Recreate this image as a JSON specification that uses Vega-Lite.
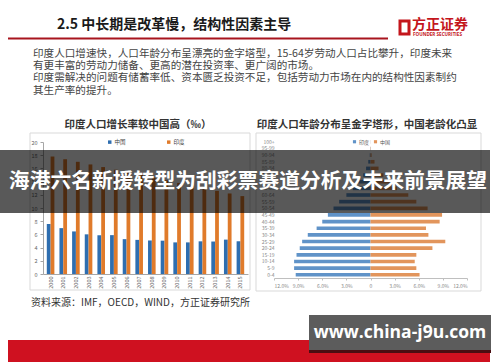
{
  "$schema": "https://vega.github.io/schema/vega-lite/v6.json",
  "width": 500,
  "height": 362,
  "padding": 0,
  "autosize": {"type": "none"},
  "background": "white",
  "config": {
    "view": {"stroke": null},
    "font": "Noto Sans CJK SC",
    "axis": {"labelFont": "Noto Sans CJK SC", "grid": false},
    "legend": {"labelFont": "Noto Sans CJK SC"},
    "text": {"font": "Noto Sans CJK SC"}
  },
  "resolve": {
    "scale": {"x": "independent", "y": "independent", "color": "independent", "xOffset": "independent"},
    "axis": {"x": "independent", "y": "independent"},
    "legend": {"color": "independent"}
  },
  "layer": [
    {
      "data": {"values": [{"part": "page"}]},
      "layer": [
        {
          "mark": {"type": "rect", "filled": false, "stroke": "#d9d9d9", "strokeWidth": 1},
          "encoding": {
            "x": {"datum": 30, "type": "quantitative", "scale": {"domain": [0, 500], "range": [0, 500], "nice": false, "zero": false}, "axis": null},
            "x2": {"datum": 250},
            "y": {"datum": 133, "type": "quantitative", "scale": {"domain": [0, 362], "range": [0, 362], "nice": false, "zero": false}, "axis": null},
            "y2": {"datum": 290}
          }
        },
        {
          "mark": {"type": "rect", "filled": false, "stroke": "#d9d9d9", "strokeWidth": 1},
          "encoding": {
            "x": {"datum": 256, "type": "quantitative", "scale": {"domain": [0, 500], "range": [0, 500], "nice": false, "zero": false}, "axis": null},
            "x2": {"datum": 481},
            "y": {"datum": 133, "type": "quantitative", "scale": {"domain": [0, 362], "range": [0, 362], "nice": false, "zero": false}, "axis": null},
            "y2": {"datum": 291}
          }
        },
        {
          "mark": {"type": "text", "align": "left", "baseline": "middle", "fontSize": 14, "fontWeight": "bold", "color": "#1a1a1a"},
          "encoding": {
            "x": {"datum": 57, "type": "quantitative", "scale": {"domain": [0, 500], "range": [0, 500], "nice": false, "zero": false}, "axis": null},
            "y": {"datum": 25, "type": "quantitative", "scale": {"domain": [0, 362], "range": [0, 362], "nice": false, "zero": false}, "axis": null},
            "text": {"value": "2.5 中长期是改革慢，结构性因素主导"}
          }
        },
        {
          "mark": {"type": "rule", "color": "#a8151e", "strokeWidth": 2},
          "encoding": {
            "x": {"datum": 8, "type": "quantitative", "scale": {"domain": [0, 500], "range": [0, 500], "nice": false, "zero": false}, "axis": null},
            "x2": {"datum": 388},
            "y": {"datum": 38.5, "type": "quantitative", "scale": {"domain": [0, 362], "range": [0, 362], "nice": false, "zero": false}, "axis": null}
          }
        },
        {
          "mark": {"type": "rect", "filled": false, "stroke": "#c4161c", "strokeWidth": 3},
          "encoding": {
            "x": {"datum": 400, "type": "quantitative", "scale": {"domain": [0, 500], "range": [0, 500], "nice": false, "zero": false}, "axis": null},
            "x2": {"datum": 409},
            "y": {"datum": 21, "type": "quantitative", "scale": {"domain": [0, 362], "range": [0, 362], "nice": false, "zero": false}, "axis": null},
            "y2": {"datum": 34}
          }
        },
        {
          "mark": {"type": "text", "align": "left", "baseline": "middle", "fontSize": 14, "fontWeight": "bold", "color": "#c4161c"},
          "encoding": {
            "x": {"datum": 412, "type": "quantitative", "scale": {"domain": [0, 500], "range": [0, 500], "nice": false, "zero": false}, "axis": null},
            "y": {"datum": 25, "type": "quantitative", "scale": {"domain": [0, 362], "range": [0, 362], "nice": false, "zero": false}, "axis": null},
            "text": {"value": "方正证券"}
          }
        },
        {
          "mark": {"type": "text", "align": "left", "baseline": "middle", "fontSize": 4.6, "fontWeight": "bold", "color": "#c4161c", "font": "Open Sans"},
          "encoding": {
            "x": {"datum": 413, "type": "quantitative", "scale": {"domain": [0, 500], "range": [0, 500], "nice": false, "zero": false}, "axis": null},
            "y": {"datum": 35, "type": "quantitative", "scale": {"domain": [0, 362], "range": [0, 362], "nice": false, "zero": false}, "axis": null},
            "text": {"value": "FOUNDER SECURITIES"}
          }
        },
        {
          "mark": {"type": "text", "align": "left", "baseline": "top", "fontSize": 10.6, "lineHeight": 12.2, "color": "#444444"},
          "encoding": {
            "x": {"datum": 33, "type": "quantitative", "scale": {"domain": [0, 500], "range": [0, 500], "nice": false, "zero": false}, "axis": null},
            "y": {"datum": 49, "type": "quantitative", "scale": {"domain": [0, 362], "range": [0, 362], "nice": false, "zero": false}, "axis": null},
            "text": {"value": ["印度人口增速快，人口年龄分布呈漂亮的金字塔型，15-64岁劳动人口占比攀升，印度未来", "有更丰富的劳动力储备、更高的潜在投资率、更广阔的市场。", "印度需解决的问题有储蓄率低、资本匮乏投资不足，包括劳动力市场在内的结构性因素制约", "其生产率的提升。"]}
          }
        },
        {
          "mark": {"type": "text", "align": "center", "baseline": "middle", "fontSize": 10.5, "fontWeight": "bold", "color": "#333333"},
          "encoding": {
            "x": {"datum": 138, "type": "quantitative", "scale": {"domain": [0, 500], "range": [0, 500], "nice": false, "zero": false}, "axis": null},
            "y": {"datum": 124.5, "type": "quantitative", "scale": {"domain": [0, 362], "range": [0, 362], "nice": false, "zero": false}, "axis": null},
            "text": {"value": "印度人口增长率较中国高（‰）"}
          }
        },
        {
          "mark": {"type": "text", "align": "center", "baseline": "middle", "fontSize": 10.5, "fontWeight": "bold", "color": "#333333"},
          "encoding": {
            "x": {"datum": 367, "type": "quantitative", "scale": {"domain": [0, 500], "range": [0, 500], "nice": false, "zero": false}, "axis": null},
            "y": {"datum": 124.5, "type": "quantitative", "scale": {"domain": [0, 362], "range": [0, 362], "nice": false, "zero": false}, "axis": null},
            "text": {"value": "印度人口年龄分布呈金字塔形，中国老龄化凸显"}
          }
        },
        {
          "mark": {"type": "text", "align": "left", "baseline": "middle", "fontSize": 10, "color": "#333333"},
          "encoding": {
            "x": {"datum": 31, "type": "quantitative", "scale": {"domain": [0, 500], "range": [0, 500], "nice": false, "zero": false}, "axis": null},
            "y": {"datum": 303, "type": "quantitative", "scale": {"domain": [0, 362], "range": [0, 362], "nice": false, "zero": false}, "axis": null},
            "text": {"value": "资料来源：IMF，OECD，WIND，方正证券研究所"}
          }
        }
      ]
    },
    {
      "data": {"values": [
        {"year": "2000", "country": "中国", "rate": 7.58}, {"year": "2000", "country": "印度", "rate": 17.8},
        {"year": "2001", "country": "中国", "rate": 6.95}, {"year": "2001", "country": "印度", "rate": 17.4},
        {"year": "2002", "country": "中国", "rate": 6.45}, {"year": "2002", "country": "印度", "rate": 17.0},
        {"year": "2003", "country": "中国", "rate": 6.01}, {"year": "2003", "country": "印度", "rate": 16.6},
        {"year": "2004", "country": "中国", "rate": 5.87}, {"year": "2004", "country": "印度", "rate": 16.2},
        {"year": "2005", "country": "中国", "rate": 5.89}, {"year": "2005", "country": "印度", "rate": 15.8},
        {"year": "2006", "country": "中国", "rate": 5.28}, {"year": "2006", "country": "印度", "rate": 15.4},
        {"year": "2007", "country": "中国", "rate": 5.17}, {"year": "2007", "country": "印度", "rate": 15.0},
        {"year": "2008", "country": "中国", "rate": 5.08}, {"year": "2008", "country": "印度", "rate": 14.6},
        {"year": "2009", "country": "中国", "rate": 5.05}, {"year": "2009", "country": "印度", "rate": 14.2},
        {"year": "2010", "country": "中国", "rate": 4.79}, {"year": "2010", "country": "印度", "rate": 13.8},
        {"year": "2011", "country": "中国", "rate": 4.79}, {"year": "2011", "country": "印度", "rate": 13.4},
        {"year": "2012", "country": "中国", "rate": 4.95}, {"year": "2012", "country": "印度", "rate": 13.0},
        {"year": "2013", "country": "中国", "rate": 4.92}, {"year": "2013", "country": "印度", "rate": 12.6},
        {"year": "2014", "country": "中国", "rate": 5.21}, {"year": "2014", "country": "印度", "rate": 12.2},
        {"year": "2015", "country": "中国", "rate": 4.96}, {"year": "2015", "country": "印度", "rate": 11.8}
      ]},
      "mark": {"type": "bar"},
      "encoding": {
        "x": {
          "field": "year", "type": "ordinal",
          "scale": {"range": [43, 248], "paddingInner": 0.4, "paddingOuter": 0.3},
          "axis": {"orient": "bottom", "offset": -88, "title": null, "labelAngle": -90, "labelFontSize": 5.5, "labelColor": "#666666", "ticks": false, "domainColor": "#a6a6a6", "labelPadding": 2}
        },
        "xOffset": {"field": "country", "type": "nominal", "scale": {"domain": ["中国", "印度"]}},
        "y": {
          "field": "rate", "type": "quantitative",
          "scale": {"domain": [0, 20], "range": [274, 142], "nice": false},
          "axis": {"orient": "left", "offset": -43, "title": null, "values": [0, 2, 4, 6, 8, 10, 12, 14, 16, 18, 20], "labelFontSize": 5.5, "labelColor": "#666666", "tickSize": 3, "tickColor": "#a6a6a6", "domainColor": "#a6a6a6", "labelPadding": 3}
        },
        "color": {
          "field": "country", "type": "nominal",
          "scale": {"domain": ["中国", "印度"], "range": ["#2e6eb0", "#e07b2b"]},
          "legend": {"orient": "none", "legendX": 107, "legendY": 139, "direction": "horizontal", "title": null, "symbolType": "square", "symbolSize": 12, "labelFontSize": 5.5, "labelColor": "#444444", "columnPadding": 40, "symbolOffset": 0, "labelOffset": 2}
        }
      }
    },
    {
      "data": {"values": [
        {"age": "100+", "who": "印度", "pct": -0.01}, {"age": "100+", "who": "中国", "pct": 0.01},
        {"age": "95-99", "who": "印度", "pct": -0.03}, {"age": "95-99", "who": "中国", "pct": 0.04},
        {"age": "90-94", "who": "印度", "pct": -0.09}, {"age": "90-94", "who": "中国", "pct": 0.14},
        {"age": "85-89", "who": "印度", "pct": -0.28}, {"age": "85-89", "who": "中国", "pct": 0.5},
        {"age": "80-84", "who": "印度", "pct": -0.55}, {"age": "80-84", "who": "中国", "pct": 1.0},
        {"age": "75-79", "who": "印度", "pct": -0.9}, {"age": "75-79", "who": "中国", "pct": 1.6},
        {"age": "70-74", "who": "印度", "pct": -1.5}, {"age": "70-74", "who": "中国", "pct": 2.4},
        {"age": "65-69", "who": "印度", "pct": -2.2}, {"age": "65-69", "who": "中国", "pct": 3.3},
        {"age": "60-64", "who": "印度", "pct": -3.0}, {"age": "60-64", "who": "中国", "pct": 4.7},
        {"age": "55-59", "who": "印度", "pct": -3.9}, {"age": "55-59", "who": "中国", "pct": 5.7},
        {"age": "50-54", "who": "印度", "pct": -4.6}, {"age": "50-54", "who": "中国", "pct": 7.1},
        {"age": "45-49", "who": "印度", "pct": -5.3}, {"age": "45-49", "who": "中国", "pct": 8.9},
        {"age": "40-44", "who": "印度", "pct": -6.0}, {"age": "40-44", "who": "中国", "pct": 8.6},
        {"age": "35-39", "who": "印度", "pct": -6.7}, {"age": "35-39", "who": "中国", "pct": 6.9},
        {"age": "30-34", "who": "印度", "pct": -7.8}, {"age": "30-34", "who": "中国", "pct": 7.2},
        {"age": "25-29", "who": "印度", "pct": -8.5}, {"age": "25-29", "who": "中国", "pct": 9.3},
        {"age": "20-24", "who": "印度", "pct": -8.8}, {"age": "20-24", "who": "中国", "pct": 7.7},
        {"age": "15-19", "who": "印度", "pct": -9.2}, {"age": "15-19", "who": "中国", "pct": 5.7},
        {"age": "10-14", "who": "印度", "pct": -9.5}, {"age": "10-14", "who": "中国", "pct": 5.5},
        {"age": "5-9", "who": "印度", "pct": -9.5}, {"age": "5-9", "who": "中国", "pct": 5.7},
        {"age": "0-4", "who": "印度", "pct": -9.3}, {"age": "0-4", "who": "中国", "pct": 6.1}
      ]},
      "mark": {"type": "bar"},
      "encoding": {
        "y": {
          "field": "age", "type": "ordinal",
          "scale": {"domain": ["100+", "95-99", "90-94", "85-89", "80-84", "75-79", "70-74", "65-69", "60-64", "55-59", "50-54", "45-49", "40-44", "35-39", "30-34", "25-29", "20-24", "15-19", "10-14", "5-9", "0-4"], "range": [138, 278.6], "paddingInner": 0.45, "paddingOuter": 0.3},
          "axis": {"orient": "left", "offset": -276, "title": null, "ticks": false, "domain": false, "labelFontSize": 5, "labelColor": "#888888", "labelPadding": 2}
        },
        "x": {
          "field": "pct", "type": "quantitative",
          "scale": {"domain": [-12, 12], "range": [274, 467], "nice": false},
          "axis": {"orient": "bottom", "offset": -84, "title": null, "values": [-12, -9, -6, -3, 0, 3, 6, 9, 12], "labelExpr": "datum.value == 0 ? '0' : format(abs(datum.value), '.1f') + '%'", "labelFontSize": 5, "labelColor": "#888888", "tickSize": 2, "tickColor": "#bfbfbf", "domainColor": "#bfbfbf", "labelPadding": 3}
        },
        "color": {
          "field": "who", "type": "nominal",
          "scale": {"domain": ["印度", "中国"], "range": ["#6093c8", "#e2955c"]},
          "legend": {"orient": "none", "legendX": 352, "legendY": 139, "direction": "horizontal", "title": null, "symbolType": "square", "symbolSize": 10, "labelFontSize": 5, "labelColor": "#555555", "columnPadding": 3, "labelOffset": 2}
        }
      }
    },
    {
      "data": {"values": [{"part": "overlay"}]},
      "layer": [
        {
          "mark": {"type": "rect", "fill": "black", "opacity": 0.65},
          "encoding": {
            "x": {"datum": 0, "type": "quantitative", "scale": {"domain": [0, 500], "range": [0, 500], "nice": false, "zero": false}, "axis": null},
            "x2": {"datum": 490},
            "y": {"datum": 150, "type": "quantitative", "scale": {"domain": [0, 362], "range": [0, 362], "nice": false, "zero": false}, "axis": null},
            "y2": {"datum": 213}
          }
        },
        {
          "mark": {"type": "text", "align": "center", "baseline": "middle", "fontSize": 20.8, "fontWeight": "bold", "color": "white"},
          "encoding": {
            "x": {"datum": 248, "type": "quantitative", "scale": {"domain": [0, 500], "range": [0, 500], "nice": false, "zero": false}, "axis": null},
            "y": {"datum": 182, "type": "quantitative", "scale": {"domain": [0, 362], "range": [0, 362], "nice": false, "zero": false}, "axis": null},
            "text": {"value": "海港六名新援转型为刮彩票赛道分析及未来前景展望"}
          }
        },
        {
          "mark": {"type": "rect", "fill": "#cf1120"},
          "encoding": {
            "x": {"datum": 8, "type": "quantitative", "scale": {"domain": [0, 500], "range": [0, 500], "nice": false, "zero": false}, "axis": null},
            "x2": {"datum": 490},
            "y": {"datum": 340, "type": "quantitative", "scale": {"domain": [0, 362], "range": [0, 362], "nice": false, "zero": false}, "axis": null},
            "y2": {"datum": 362}
          }
        },
        {
          "mark": {"type": "rect", "fill": "#4a0e12"},
          "encoding": {
            "x": {"datum": 309, "type": "quantitative", "scale": {"domain": [0, 500], "range": [0, 500], "nice": false, "zero": false}, "axis": null},
            "x2": {"datum": 491},
            "y": {"datum": 315, "type": "quantitative", "scale": {"domain": [0, 362], "range": [0, 362], "nice": false, "zero": false}, "axis": null},
            "y2": {"datum": 353}
          }
        },
        {
          "mark": {"type": "rect", "fill": "#5c5c5c"},
          "encoding": {
            "x": {"datum": 309, "type": "quantitative", "scale": {"domain": [0, 500], "range": [0, 500], "nice": false, "zero": false}, "axis": null},
            "x2": {"datum": 491},
            "y": {"datum": 315, "type": "quantitative", "scale": {"domain": [0, 362], "range": [0, 362], "nice": false, "zero": false}, "axis": null},
            "y2": {"datum": 350}
          }
        },
        {
          "mark": {"type": "text", "align": "center", "baseline": "middle", "fontSize": 17.5, "fontWeight": "bold", "color": "white", "font": "Open Sans"},
          "encoding": {
            "x": {"datum": 400, "type": "quantitative", "scale": {"domain": [0, 500], "range": [0, 500], "nice": false, "zero": false}, "axis": null},
            "y": {"datum": 333, "type": "quantitative", "scale": {"domain": [0, 362], "range": [0, 362], "nice": false, "zero": false}, "axis": null},
            "text": {"value": "www.china-j9u.com"}
          }
        }
      ]
    }
  ]
}
